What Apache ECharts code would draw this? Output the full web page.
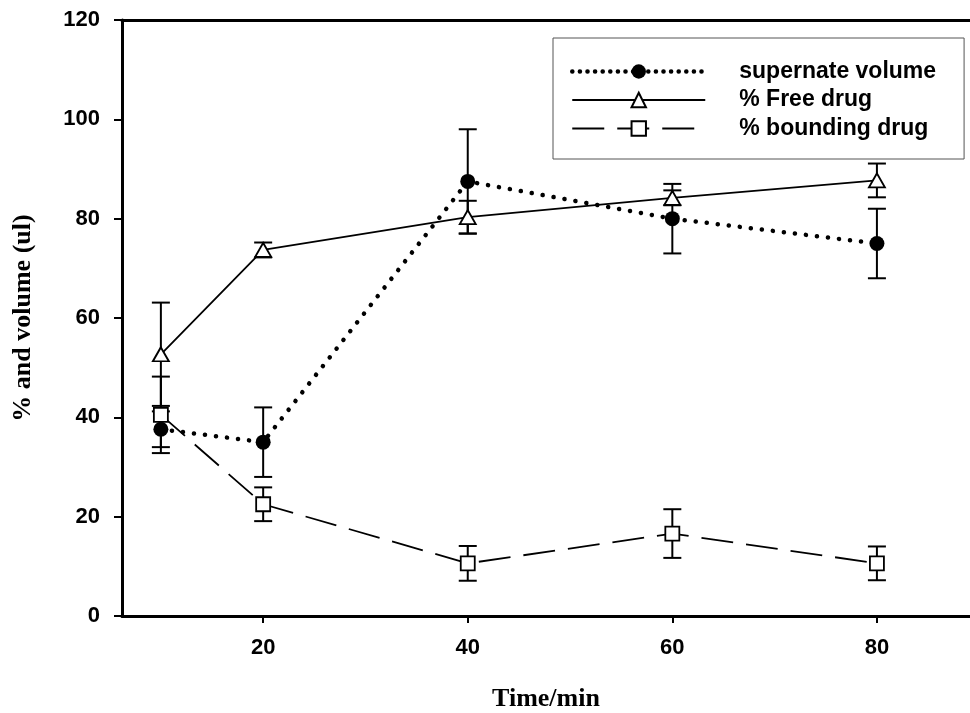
<!DOCTYPE html>
<html>
<head>
<meta charset="utf-8">
<script src="https://cdn.jsdelivr.net/npm/echarts@6/dist/echarts.min.js"></script>
<style>
html,body{margin:0;padding:0;background:#fff;}
#chart{width:970px;height:713px;}
</style>
</head>
<body>
<div id="chart"></div>
<script>
const timeValues = [10, 20, 40, 60, 80];
const supernateVolume = [37.6, 35.0, 87.5, 80.0, 75.0];
const supernateErr = [3.6, 7.0, 10.5, 7.0, 7.0];
const freeDrug = [52.7, 73.7, 80.3, 84.2, 87.7];
const freeDrugErr = [10.4, 1.5, 3.3, 1.5, 3.4];
const boundingDrug = [40.5, 22.5, 10.6, 16.6, 10.6];
const boundingDrugErr = [7.7, 3.4, 3.5, 4.9, 3.4];
const xTickValues = [20, 40, 60, 80];
const seriesNames = ['supernate volume', '% Free drug', '% bounding drug'];

const X_MIN = 6.2, X_MAX = 89.1;

function pairs(vals) { return timeValues.map((t, i) => [t, vals[i]]); }
function errData(vals, errs) { return timeValues.map((t, i) => [t, vals[i] - errs[i], vals[i] + errs[i]]); }

function errRender(params, api) {
  const x = api.value(0), lo = api.value(1), hi = api.value(2);
  const a = api.coord([x, lo]), b = api.coord([x, hi]);
  const hw = 9;
  const st = { stroke: '#000', lineWidth: 2 };
  return {
    type: 'group',
    children: [
      { type: 'line', shape: { x1: a[0], y1: a[1], x2: b[0], y2: b[1] }, style: st },
      { type: 'line', shape: { x1: a[0] - hw, y1: a[1], x2: a[0] + hw, y2: a[1] }, style: st },
      { type: 'line', shape: { x1: b[0] - hw, y1: b[1], x2: b[0] + hw, y2: b[1] }, style: st }
    ]
  };
}

const chart = echarts.init(document.getElementById('chart'), null, { renderer: 'canvas' });
const labelFont = { fontFamily: 'Liberation Sans, Arial, sans-serif', fontWeight: 'bold', fontSize: 22, color: '#000' };
const titleFont = { fontFamily: 'Liberation Serif, Times New Roman, serif', fontWeight: 'bold', fontSize: 26, color: '#000' };

chart.setOption({
  animation: false,
  backgroundColor: '#fff',
  grid: { left: 122, right: 0, top: 20, bottom: 97, containLabel: false, outerBoundsMode: 'none' },
  legend: {
    data: [
      { name: seriesNames[0], lineStyle: { width: 4.5, type: [0.1, 7.5], cap: 'round' } },
      { name: seriesNames[1] },
      { name: seriesNames[2] }
    ],
    orient: 'vertical',
    left: 553,
    top: 38,
    itemWidth: 133,
    itemHeight: 18,
    itemGap: 5.5,
    padding: [22, 28, 19, 17],
    borderColor: '#555',
    borderWidth: 1,
    backgroundColor: '#fff',
    selectedMode: false,
    textStyle: Object.assign({}, labelFont, { fontSize: 23, lineHeight: 23, padding: [0, 0, 0, 29] })
  },
  xAxis: [{
    type: 'value',
    min: X_MIN,
    max: X_MAX,
    name: 'Time/min',
    nameLocation: 'middle',
    nameGap: 70,
    nameTextStyle: titleFont,
    axisLine: { show: true, onZero: false, lineStyle: { color: '#000', width: 3 } },
    axisTick: { show: true, inside: false, length: 7, lineStyle: { color: '#000', width: 2 }, customValues: xTickValues },
    axisLabel: Object.assign({ margin: 21, customValues: xTickValues }, labelFont),
    splitLine: { show: false }
  }, {
    type: 'value',
    position: 'top',
    min: X_MIN,
    max: X_MAX,
    axisLine: { show: true, onZero: false, lineStyle: { color: '#000', width: 3 } },
    axisTick: { show: false },
    axisLabel: { show: false },
    splitLine: { show: false }
  }],
  yAxis: {
    type: 'value',
    min: 0,
    max: 120,
    interval: 20,
    name: '% and volume (ul)',
    nameLocation: 'middle',
    nameGap: 86,
    nameTextStyle: titleFont,
    axisLine: { show: true, onZero: false, lineStyle: { color: '#000', width: 3 } },
    axisTick: { show: true, inside: false, length: 8, lineStyle: { color: '#000', width: 2 } },
    axisLabel: Object.assign({ margin: 22 }, labelFont),
    splitLine: { show: false }
  },
  series: [
    { name: 'err-sup', type: 'custom', renderItem: errRender, data: errData(supernateVolume, supernateErr), z: 1, silent: true },
    { name: 'err-free', type: 'custom', renderItem: errRender, data: errData(freeDrug, freeDrugErr), z: 1, silent: true },
    { name: 'err-bound', type: 'custom', renderItem: errRender, data: errData(boundingDrug, boundingDrugErr), z: 1, silent: true },
    {
      name: seriesNames[0], type: 'line', data: pairs(supernateVolume), z: 3,
      symbol: 'circle', symbolSize: 15,
      itemStyle: { color: '#000', borderColor: '#000', borderWidth: 0 },
      lineStyle: { color: '#000', width: 4.5, type: [0.1, 11], cap: 'round' }
    },
    {
      name: seriesNames[1], type: 'line', data: pairs(freeDrug), z: 3,
      symbol: 'triangle', symbolSize: [16, 14],
      itemStyle: { color: '#fff', borderColor: '#000', borderWidth: 1.8 },
      lineStyle: { color: '#000', width: 1.8, type: 'solid' }
    },
    {
      name: seriesNames[2], type: 'line', data: pairs(boundingDrug), z: 3,
      symbol: 'rect', symbolSize: 14,
      itemStyle: { color: '#fff', borderColor: '#000', borderWidth: 1.8 },
      lineStyle: { color: '#000', width: 1.8, type: [32, 13] }
    }
  ]
});
</script>
</body>
</html>
